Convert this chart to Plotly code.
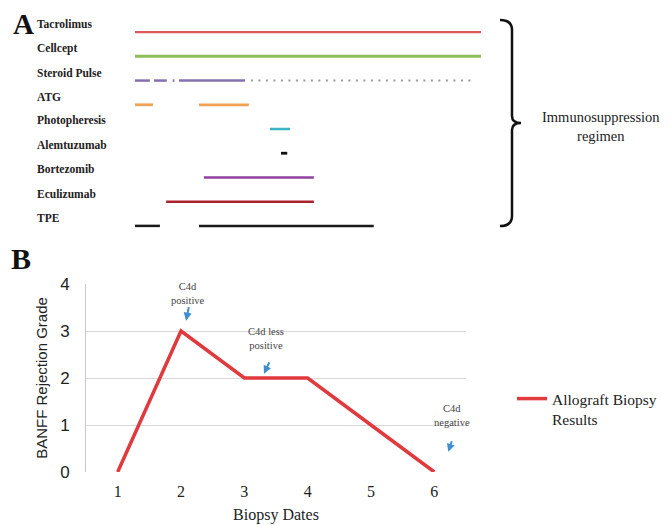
import plotly.graph_objects as go

# The page body has an 8px margin, so the figure is offset by 8px.
OFF = 8
W, H = 670 - OFF, 525 - OFF
def PX(x): return (x - OFF) / W
def PY(y): return 1 - (y - OFF) / H

# ---- Panel A data (timeline units 0-100) ----
drugs = ["Tacrolimus", "Cellcept", "Steroid Pulse", "ATG", "Photopheresis",
         "Alemtuzumab", "Bortezomib", "Eculizumab", "TPE"]
drug_segments = {
    "Tacrolimus": [(0, 100)],
    "Cellcept": [(0, 100)],
    "Steroid Pulse": [(0, 4.3), (5.5, 9.2), (10.9, 11.4), (12.7, 31.8)],
    "ATG": [(0, 5.2), (18.5, 32.9)],
    "Photopheresis": [(39, 44.8)],
    "Alemtuzumab": [(42.2, 44.0)],
    "Bortezomib": [(19.9, 51.7)],
    "Eculizumab": [(9, 51.7)],
    "TPE": [(0, 7.2), (18.5, 69)],
}
steroid_taper = [(33.5, 98.5)]
drug_colors = {
    "Tacrolimus": "#dd5a5c", "Cellcept": "#8cbf5a", "Steroid Pulse": "#8470ad",
    "ATG": "#f2a255", "Photopheresis": "#3cb4c4", "Alemtuzumab": "#111111",
    "Bortezomib": "#9040a0", "Eculizumab": "#aa222c", "TPE": "#1a1a1a",
}
drug_widths = {"Tacrolimus": 2.2, "Cellcept": 3, "Steroid Pulse": 2.5, "ATG": 2.8,
               "Photopheresis": 2.5, "Alemtuzumab": 2.8, "Bortezomib": 2.5,
               "Eculizumab": 2.5, "TPE": 2.5}

# ---- Panel B data ----
biopsy_dates = [1, 2, 3, 4, 5, 6]
banff_grade = [0, 3, 2, 2, 1, 0]
notes = [  # (text, x, y, arrow head x, arrow head y, tail dx, tail dy)
    ("C4d<br>positive", 2.11, 3.79, 2.08, 3.22, 3, -15),
    ("C4d less<br>positive", 3.34, 2.83, 3.31, 2.09, 6, -13),
    ("C4d<br>negative", 6.28, 1.21, 6.22, 0.43, 4, -12),
]

fig = go.Figure()

def seg_xy(segs, row):
    xs, ys = [], []
    for a, b in segs:
        xs += [a, b, None]
        ys += [row, row, None]
    return xs, ys

for i, d in enumerate(drugs):
    xs, ys = seg_xy(drug_segments[d], i)
    fig.add_trace(go.Scatter(x=xs, y=ys, mode="lines", xaxis="x", yaxis="y",
                             line=dict(color=drug_colors[d], width=drug_widths[d]),
                             showlegend=False, hoverinfo="skip"))
    if d == "Steroid Pulse":
        xs, ys = seg_xy(steroid_taper, i)
        fig.add_trace(go.Scatter(x=xs, y=ys, mode="lines", xaxis="x", yaxis="y",
                                 line=dict(color="#9a9a9a", width=2, dash="2px,5.5px"),
                                 showlegend=False, hoverinfo="skip"))

fig.add_trace(go.Scatter(x=biopsy_dates, y=banff_grade, mode="lines",
                         xaxis="x2", yaxis="y2", name="Allograft Biopsy<br>Results",
                         line=dict(color="#e0393e", width=3.5)))

annotations = []
for i, d in enumerate(drugs):
    annotations.append(dict(text="<b>" + d + "</b>", x=PX(35), xref="paper", y=i, yref="y",
                            xanchor="left", yanchor="middle", yshift=8, showarrow=False,
                            font=dict(family="Liberation Serif", size=11.5, color="#222")))

annotations += [
    dict(text="<b>A</b>", x=PX(11), y=PY(24), xref="paper", yref="paper",
         xanchor="left", yanchor="middle", showarrow=False,
         font=dict(family="Liberation Serif", size=29, color="#111")),
    dict(text="<b>B</b>", x=PX(9), y=PY(258), xref="paper", yref="paper",
         xanchor="left", yanchor="middle", showarrow=False,
         font=dict(family="Liberation Serif", size=30, color="#111")),
    dict(text="Immunosuppression<br>regimen", x=PX(601), y=PY(126), xref="paper",
         yref="paper", xanchor="center", yanchor="middle", showarrow=False,
         font=dict(family="Liberation Serif", size=14.5, color="#222")),
]
for t, x, y, hx, hy, dx, dy in notes:
    annotations.append(dict(text=t, x=x, y=y, xref="x2", yref="y2", showarrow=False,
                            font=dict(family="Liberation Serif", size=10.5, color="#444")))
    annotations.append(dict(text="", x=hx, y=hy, xref="x2", yref="y2", ax=dx, ay=dy,
                            showarrow=True, arrowhead=2, arrowsize=0.8, arrowwidth=2,
                            arrowcolor="#3d8fd1"))

bracket = ("M {0},{1} Q {2},{1} {2},{3} L {2},{4} Q {2},{5} {6},{5} "
           "Q {2},{5} {2},{7} L {2},{8} Q {2},{9} {0},{9}").format(
    PX(500), PY(20), PX(512), PY(30), PY(116), PY(123), PX(521), PY(130), PY(216), PY(226))

fig.update_layout(
    width=W, height=H, margin=dict(l=0, r=0, t=0, b=0, autoexpand=False),
    paper_bgcolor="white", plot_bgcolor="white",
    xaxis=dict(domain=[PX(135), PX(481)], range=[0, 100], visible=False, anchor="y",
               automargin=False),
    yaxis=dict(domain=[PY(238), PY(20)], range=[8.5, -0.5], visible=False, anchor="x",
               automargin=False),
    xaxis2=dict(domain=[PX(86), PX(466)], range=[0.5, 6.5], anchor="y2", automargin=False,
                tickvals=biopsy_dates, ticks="", showgrid=False, zeroline=False,
                showline=False, ticklabelstandoff=8,
                tickfont=dict(family="Liberation Serif", size=16, color="#222"),
                title=dict(text="Biopsy Dates", standoff=9,
                           font=dict(family="Liberation Serif", size=16, color="#222"))),
    yaxis2=dict(domain=[PY(472), PY(284)], range=[0, 4], anchor="x2", automargin=False,
                tickvals=[0, 1, 2, 3, 4], ticks="", showgrid=True, gridcolor="#d9d9d9",
                gridwidth=1, zeroline=False, showline=True, linecolor="#c8c8c8",
                ticklabelstandoff=12,
                tickfont=dict(family="Liberation Sans", size=17, color="#222"),
                title=dict(text="BANFF Rejection Grade", standoff=8,
                           font=dict(family="Liberation Sans", size=15, color="#222"))),
    showlegend=True,
    legend=dict(x=PX(512), y=PY(382), xanchor="left", yanchor="top", valign="top",
                font=dict(family="Liberation Serif", size=15.5, color="#222"),
                bgcolor="rgba(0,0,0,0)"),
    annotations=annotations,
    shapes=[dict(type="path", path=bracket, xref="paper", yref="paper",
                 line=dict(color="#111", width=2.5))],
)

fig.write_html("out.html")
